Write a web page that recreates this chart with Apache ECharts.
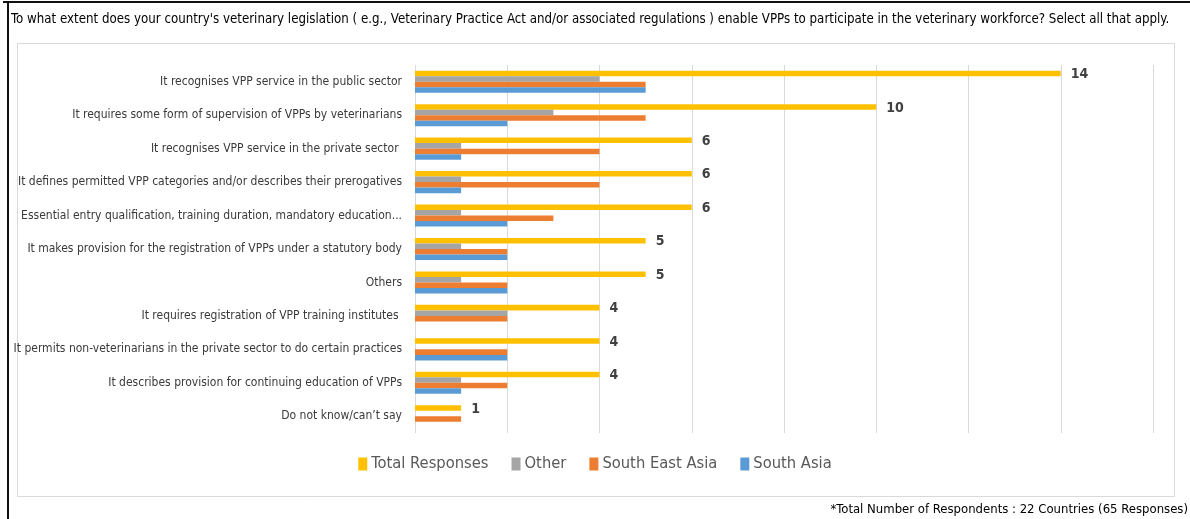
<!DOCTYPE html>
<html><head><meta charset="utf-8">
<script src="https://cdn.jsdelivr.net/npm/echarts@6/dist/echarts.min.js"></script>
<style>html,body{margin:0;padding:0;background:#fff}#c{width:1190px;height:519px}</style>
</head><body><div id="c"></div>
<script>
const categories = [
  "It recognises VPP service in the public sector",
  "It requires some form of supervision of VPPs by veterinarians",
  "It recognises VPP service in the private sector ",
  "It defines permitted VPP categories and/or describes their prerogatives",
  "Essential entry qualification, training duration, mandatory education...",
  "It makes provision for the registration of VPPs under a statutory body",
  "Others",
  "It requires registration of VPP training institutes ",
  "It permits non-veterinarians in the private sector to do certain practices",
  "It describes provision for continuing education of VPPs",
  "Do not know/can\u2019t say"
];
const totalResponses = [14, 10, 6, 6, 6, 5, 5, 4, 4, 4, 1];
const other          = [4, 3, 1, 1, 1, 1, 1, 2, 0, 1, 0];
const southEastAsia  = [5, 5, 4, 4, 3, 2, 2, 2, 2, 2, 1];
const southAsia      = [5, 2, 1, 1, 2, 2, 2, 0, 2, 1, 0];
const seriesNames = ["Total Responses", "Other", "South East Asia", "South Asia"];
const colors = ["#FFC000", "#A5A5A5", "#ED7D31", "#5B9BD5"];
const titleText = "To what extent does your country's veterinary legislation ( e.g., Veterinary Practice Act and/or associated regulations ) enable VPPs to participate in the veterinary workforce? Select all that apply.";
const footText = "*Total Number of Respondents : 22 Countries (65 Responses)";

const FONT = "'DejaVu Sans Condensed', 'Liberation Sans Narrow', sans-serif";
const chart = echarts.init(document.getElementById('c'), null, {renderer: 'canvas'});
const data = [totalResponses, other, southEastAsia, southAsia];
chart.setOption({
  animation: false,
  backgroundColor: '#fff',
  textStyle: {fontFamily: FONT},
  graphic: [
    {type: 'rect', shape: {x: 17.5, y: 43.5, width: 1157, height: 453}, style: {fill: 'none', stroke: '#d9d9d9', lineWidth: 1}, z: -1},
    {type: 'rect', shape: {x: 3, y: 1, width: 1187, height: 2}, style: {fill: '#111'}},
    {type: 'rect', shape: {x: 7, y: 1, width: 2, height: 518}, style: {fill: '#111'}},
    {type: 'text', left: 11, top: 13, style: {text: titleText, font: "13.2px " + FONT, fill: '#000'}},
    {type: 'text', right: 2, top: 503, style: {text: footText, font: "13px " + FONT, fill: '#000'}}
  ],
  legend: {
    data: seriesNames, bottom: 42, left: 'center',
    itemWidth: 9, itemHeight: 13, itemGap: 23,
    icon: 'rect',
    textStyle: {fontSize: 16.4, color: '#595959', fontFamily: FONT, padding: [0, 0, 0, -1]}
  },
  grid: {left: 415, right: 37, top: 65, bottom: 86, containLabel: false, outerBoundsMode: 'none'},
  xAxis: {
    type: 'value', min: 0, max: 16, interval: 2,
    axisLabel: {show: false}, axisLine: {show: false}, axisTick: {show: false},
    splitLine: {lineStyle: {color: '#d9d9d9', width: 1}}
  },
  yAxis: {
    type: 'category', data: categories, inverse: true,
    axisLine: {show: false}, axisTick: {show: false},
    axisLabel: {fontSize: 12, color: '#3a3a3a', fontFamily: FONT, margin: 13}
  },
  series: seriesNames.map((n, i) => ({
    name: n, type: 'bar', data: data[i],
    itemStyle: {color: colors[i]},
    barGap: '0%', barCategoryGap: '34%',
    label: i === 0 ? {show: true, position: 'right', distance: 10, fontSize: 14, fontWeight: 'bold', color: '#404040', fontFamily: FONT, offset: [0, 1]} : {show: false}
  }))
});
</script></body></html>
